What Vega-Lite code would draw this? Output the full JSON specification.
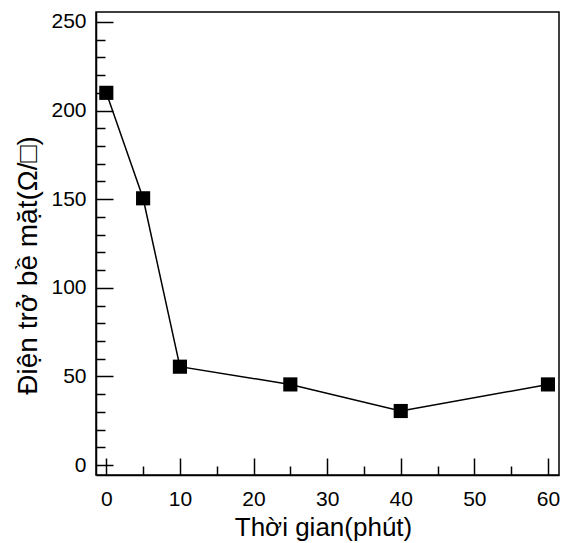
{
  "$schema": "https://vega.github.io/schema/vega-lite/v6.json",
  "width": 463,
  "height": 463,
  "autosize": {"type": "none"},
  "padding": {"left": 96, "top": 12, "right": 2, "bottom": 68},
  "background": "white",
  "config": {
    "view": {"stroke": "black", "strokeWidth": 1.5},
    "font": "Liberation Sans"
  },
  "data": {"values": [
    {"t": 0, "r": 210},
    {"t": 5, "r": 150.5},
    {"t": 10, "r": 55.5},
    {"t": 25, "r": 45.5},
    {"t": 40, "r": 30.5},
    {"t": 60, "r": 45.5}
  ]},
  "encoding": {
    "x": {"field": "t", "type": "quantitative",
      "scale": {"domain": [-1.4, 61.5], "nice": false, "zero": false},
      "axis": {"title": "Thời gian(phút)", "values": [0,5,10,15,20,25,30,35,40,45,50,55,60],
        "labelExpr": "datum.value % 10 === 0 ? datum.label : ''",
        "grid": false, "domainColor": "black", "domainWidth": 1.5, "tickColor": "black", "tickWidth": 1.5,
        "tickSize": {"condition": {"test": "datum.value % 10 === 0", "value": -17}, "value": -9},
        "labelFontSize": 21, "labelColor": "black", "labelPadding": 30, "labelFlush": false,
        "titleFontSize": 26, "titleFontWeight": "normal", "titleColor": "black", "titlePadding": 5, "titleX": 227}},
    "y": {"field": "r", "type": "quantitative",
      "scale": {"domain": [-5.6, 255.6], "nice": false, "zero": false},
      "axis": {"title": "Điện trở bề mặt(Ω/□)", "values": [0,10,20,30,40,50,60,70,80,90,100,110,120,130,140,150,160,170,180,190,200,210,220,230,240,250],
        "labelExpr": "datum.value % 50 === 0 ? datum.label : ''",
        "grid": false, "domainColor": "black", "domainWidth": 1.5, "tickColor": "black", "tickWidth": 1.5,
        "tickSize": {"condition": {"test": "datum.value % 50 === 0", "value": -17}, "value": -9},
        "labelFontSize": 21, "labelColor": "black", "labelPadding": 27, "labelFlush": false,
        "titleFontSize": 28, "titleFontWeight": "normal", "titleColor": "black", "titlePadding": 8, "titleY": 253}}
  },
  "layer": [
    {"mark": {"type": "line", "color": "black", "strokeWidth": 1.5}},
    {"mark": {"type": "square", "color": "black", "opacity": 1, "size": 200, "filled": true}}
  ]
}
